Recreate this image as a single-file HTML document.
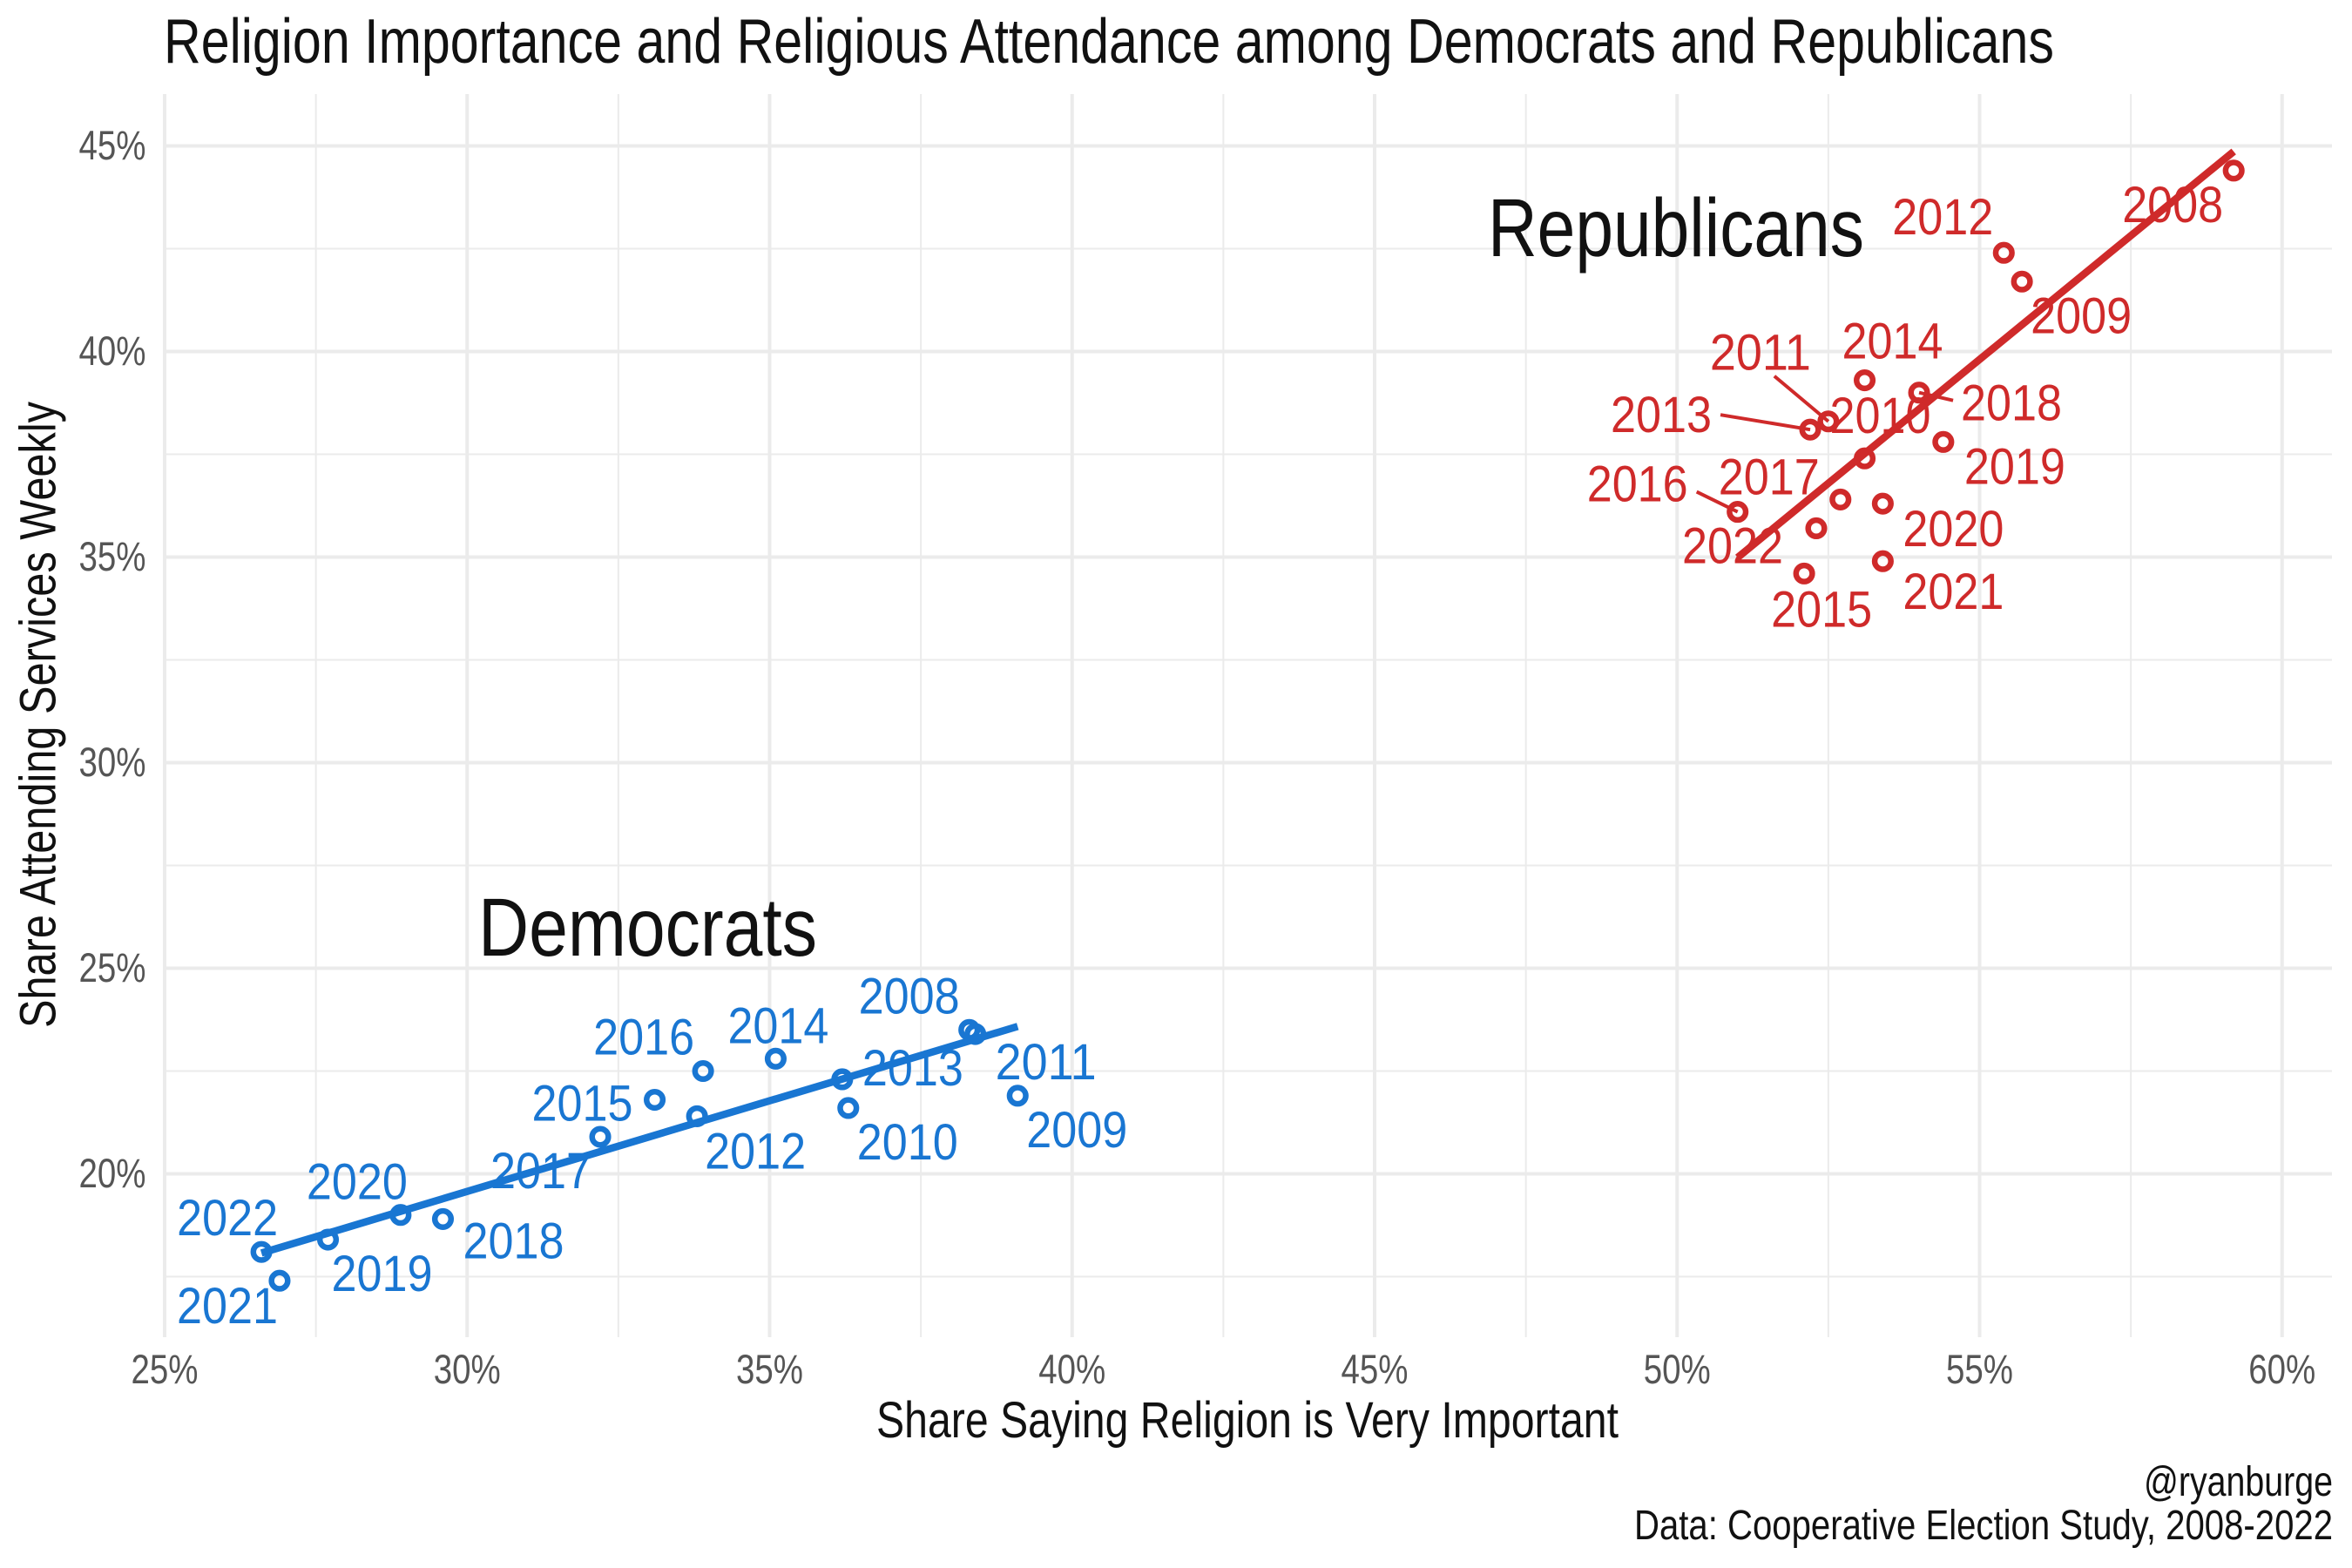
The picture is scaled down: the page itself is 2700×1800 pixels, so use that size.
<!DOCTYPE html>
<html lang="en">
<head>
<meta charset="utf-8">
<title>Religion Importance and Religious Attendance</title>
<style>
html,body{margin:0;padding:0;background:#fff;}
svg{display:block;}
text{font-family:"Liberation Sans Narrow","Liberation Sans",sans-serif;}
</style>
</head>
<body>
<svg id="chart" xmlns="http://www.w3.org/2000/svg" width="2700" height="1800" viewBox="0 0 2700 1800">
  <rect x="0" y="0" width="2700" height="1800" fill="#ffffff"/>
  <g id="grid"></g>
  <g id="ticks"></g>
  <g id="marks"></g>
  <text x="188" y="72" font-size="72" fill="#111" textLength="2170" lengthAdjust="spacingAndGlyphs">Religion Importance and Religious Attendance among Democrats and Republicans</text>
  <text x="1006" y="1650" font-size="58" fill="#111" textLength="852" lengthAdjust="spacingAndGlyphs">Share Saying Religion is Very Important</text>
  <text transform="translate(63.5 1180) rotate(-90)" x="0" y="0" font-size="58" fill="#111" textLength="719" lengthAdjust="spacingAndGlyphs">Share Attending Services Weekly</text>
  <text x="1708" y="294" font-size="95" fill="#111" textLength="432" lengthAdjust="spacingAndGlyphs">Republicans</text>
  <text x="549" y="1097" font-size="95" fill="#111" textLength="389" lengthAdjust="spacingAndGlyphs">Democrats</text>
  <text x="2678" y="1717" font-size="48" fill="#111" text-anchor="end" textLength="217" lengthAdjust="spacingAndGlyphs">@ryanburge</text>
  <text x="2678" y="1767" font-size="48" fill="#111" text-anchor="end" textLength="802" lengthAdjust="spacingAndGlyphs">Data: Cooperative Election Study, 2008-2022</text>
</svg>
<script>
// ---- data ----
var years = [2008,2009,2010,2011,2012,2013,2014,2015,2016,2017,2018,2019,2020,2021,2022];
var repImportance = [59.2,55.7,53.1,52.5,55.4,52.2,53.1,52.1,51.0,52.7,54.0,54.4,53.4,53.4,52.3];
var repAttendance = [44.4,41.7,37.4,38.3,42.4,38.1,39.3,34.6,36.1,36.4,39.0,37.8,36.3,34.9,35.7];
var demImportance = [38.3,39.1,36.3,38.4,33.8,36.2,35.1,33.1,33.9,32.2,29.6,27.7,28.9,26.9,26.6];
var demAttendance = [23.5,21.9,21.6,23.4,21.4,22.3,22.8,21.8,22.5,20.9,18.9,18.4,19.0,17.4,18.1];
var xMajorTicks = [25,30,35,40,45,50,55,60];
var xMinorTicks = [27.5,32.5,37.5,42.5,47.5,52.5,57.5];
var yMajorTicks = [20,25,30,35,40,45];
var yMinorTicks = [17.5,22.5,27.5,32.5,37.5,42.5];
var xTickLabels = ["25%","30%","35%","40%","45%","50%","55%","60%"];
var yTickLabels = ["20%","25%","30%","35%","40%","45%"];

// ---- layout (repelled label placement, relative to each point) ----
var repLabelShift = {2008:[-70,59],2009:[68,59],2010:[18,-29],2011:[-78,-59],2012:[-70,-21],2013:[-171,3],2014:[32,-25],2015:[20,61],2016:[-115,-12],2017:[-82,-6],2018:[106,32],2019:[82,48],2020:[81,49],2021:[81,55],2022:[-96,40]};
var demLabelShift = {2008:[-69,-19],2009:[68,59],2010:[68,59],2011:[81,52],2012:[67,60],2013:[81,7],2014:[3,-18],2015:[-83,24],2016:[-68,-19],2017:[-68,59],2018:[81,45],2019:[62,59],2020:[-50,-18],2021:[-60,49],2022:[-39,-19]};
var repConnectors = {2011:[-62,-52],2013:[-103,-17],2016:[-47,-23],2018:[39,9]};

var NS = "http://www.w3.org/2000/svg";
var PANEL = {left:187, right:2677, top:108, bottom:1535};
function xScale(v){ return 189 + (v - 25) * 69.45; }
function yScale(v){ return 1347.5 - (v - 20) * 47.2; }
function make(tag, parent, attrs){
  var el = document.createElementNS(NS, tag);
  for (var k in attrs) el.setAttribute(k, attrs[k]);
  parent.appendChild(el);
  return el;
}
function fit(xs, ys){
  var n = xs.length, mx = 0, my = 0, sxx = 0, sxy = 0, i;
  for (i = 0; i < n; i++){ mx += xs[i] / n; my += ys[i] / n; }
  for (i = 0; i < n; i++){ sxx += (xs[i]-mx)*(xs[i]-mx); sxy += (xs[i]-mx)*(ys[i]-my); }
  var b = sxy / sxx;
  return function(x){ return my + b * (x - mx); };
}

var grid = document.getElementById("grid");
var ticks = document.getElementById("ticks");
var marks = document.getElementById("marks");

yMinorTicks.forEach(function(v){
  var l = make("line", grid, {x1:PANEL.left, x2:PANEL.right, y1:yScale(v), y2:yScale(v), stroke:"#ebebeb", "stroke-width":2});
  
  
});
xMinorTicks.forEach(function(v){
  var l = make("line", grid, {x1:xScale(v), x2:xScale(v), y1:PANEL.top, y2:PANEL.bottom, stroke:"#ebebeb", "stroke-width":2});
  
  
});
yMajorTicks.forEach(function(v, i){
  var l = make("line", grid, {x1:PANEL.left, x2:PANEL.right, y1:yScale(v), y2:yScale(v), stroke:"#ebebeb", "stroke-width":4});
  
  
  var t = make("text", ticks, {x:167.5, y:yScale(v)+15.5, "font-size":47, fill:"#555555", "text-anchor":"end", textLength:77, lengthAdjust:"spacingAndGlyphs"});
  t.textContent = yTickLabels[i];
  
  
});
xMajorTicks.forEach(function(v, i){
  var l = make("line", grid, {x1:xScale(v), x2:xScale(v), y1:PANEL.top, y2:PANEL.bottom, stroke:"#ebebeb", "stroke-width":4});
  
  
  var t = make("text", ticks, {x:xScale(v), y:1588, "font-size":47, fill:"#555555", "text-anchor":"middle", textLength:77, lengthAdjust:"spacingAndGlyphs"});
  t.textContent = xTickLabels[i];
  
  
});

function drawSeries(key, color, xs, ys, shifts, connectors){
  var g = make("g", marks, {});
  
  
  years.forEach(function(yr, i){
    var px = xScale(xs[i]), py = yScale(ys[i]);
    var c = make("circle", g, {cx:px, cy:py, r:9.3, fill:"none", stroke:color, "stroke-width":6.5});
    
    
    if (connectors[yr]){
      var s = make("line", g, {x1:px, y1:py, x2:px+connectors[yr][0], y2:py+connectors[yr][1], stroke:color, "stroke-width":4});
      
      
    }
    var t = make("text", g, {x:px+shifts[yr][0], y:py+shifts[yr][1], "font-size":58, fill:color, "text-anchor":"middle", textLength:116, lengthAdjust:"spacingAndGlyphs"});
    t.textContent = String(yr);
    
    
  });
  var f = fit(xs, ys);
  var x0 = Math.min.apply(null, xs), x1 = Math.max.apply(null, xs);
  var tl = make("line", g, {x1:xScale(x0), y1:yScale(f(x0)), x2:xScale(x1), y2:yScale(f(x1)), stroke:color, "stroke-width":8.5});
  
  
}
drawSeries("democrats", "#1976d2", demImportance, demAttendance, demLabelShift, {});
drawSeries("republicans", "#cf2a2a", repImportance, repAttendance, repLabelShift, repConnectors);
</script>
</body>
</html>
